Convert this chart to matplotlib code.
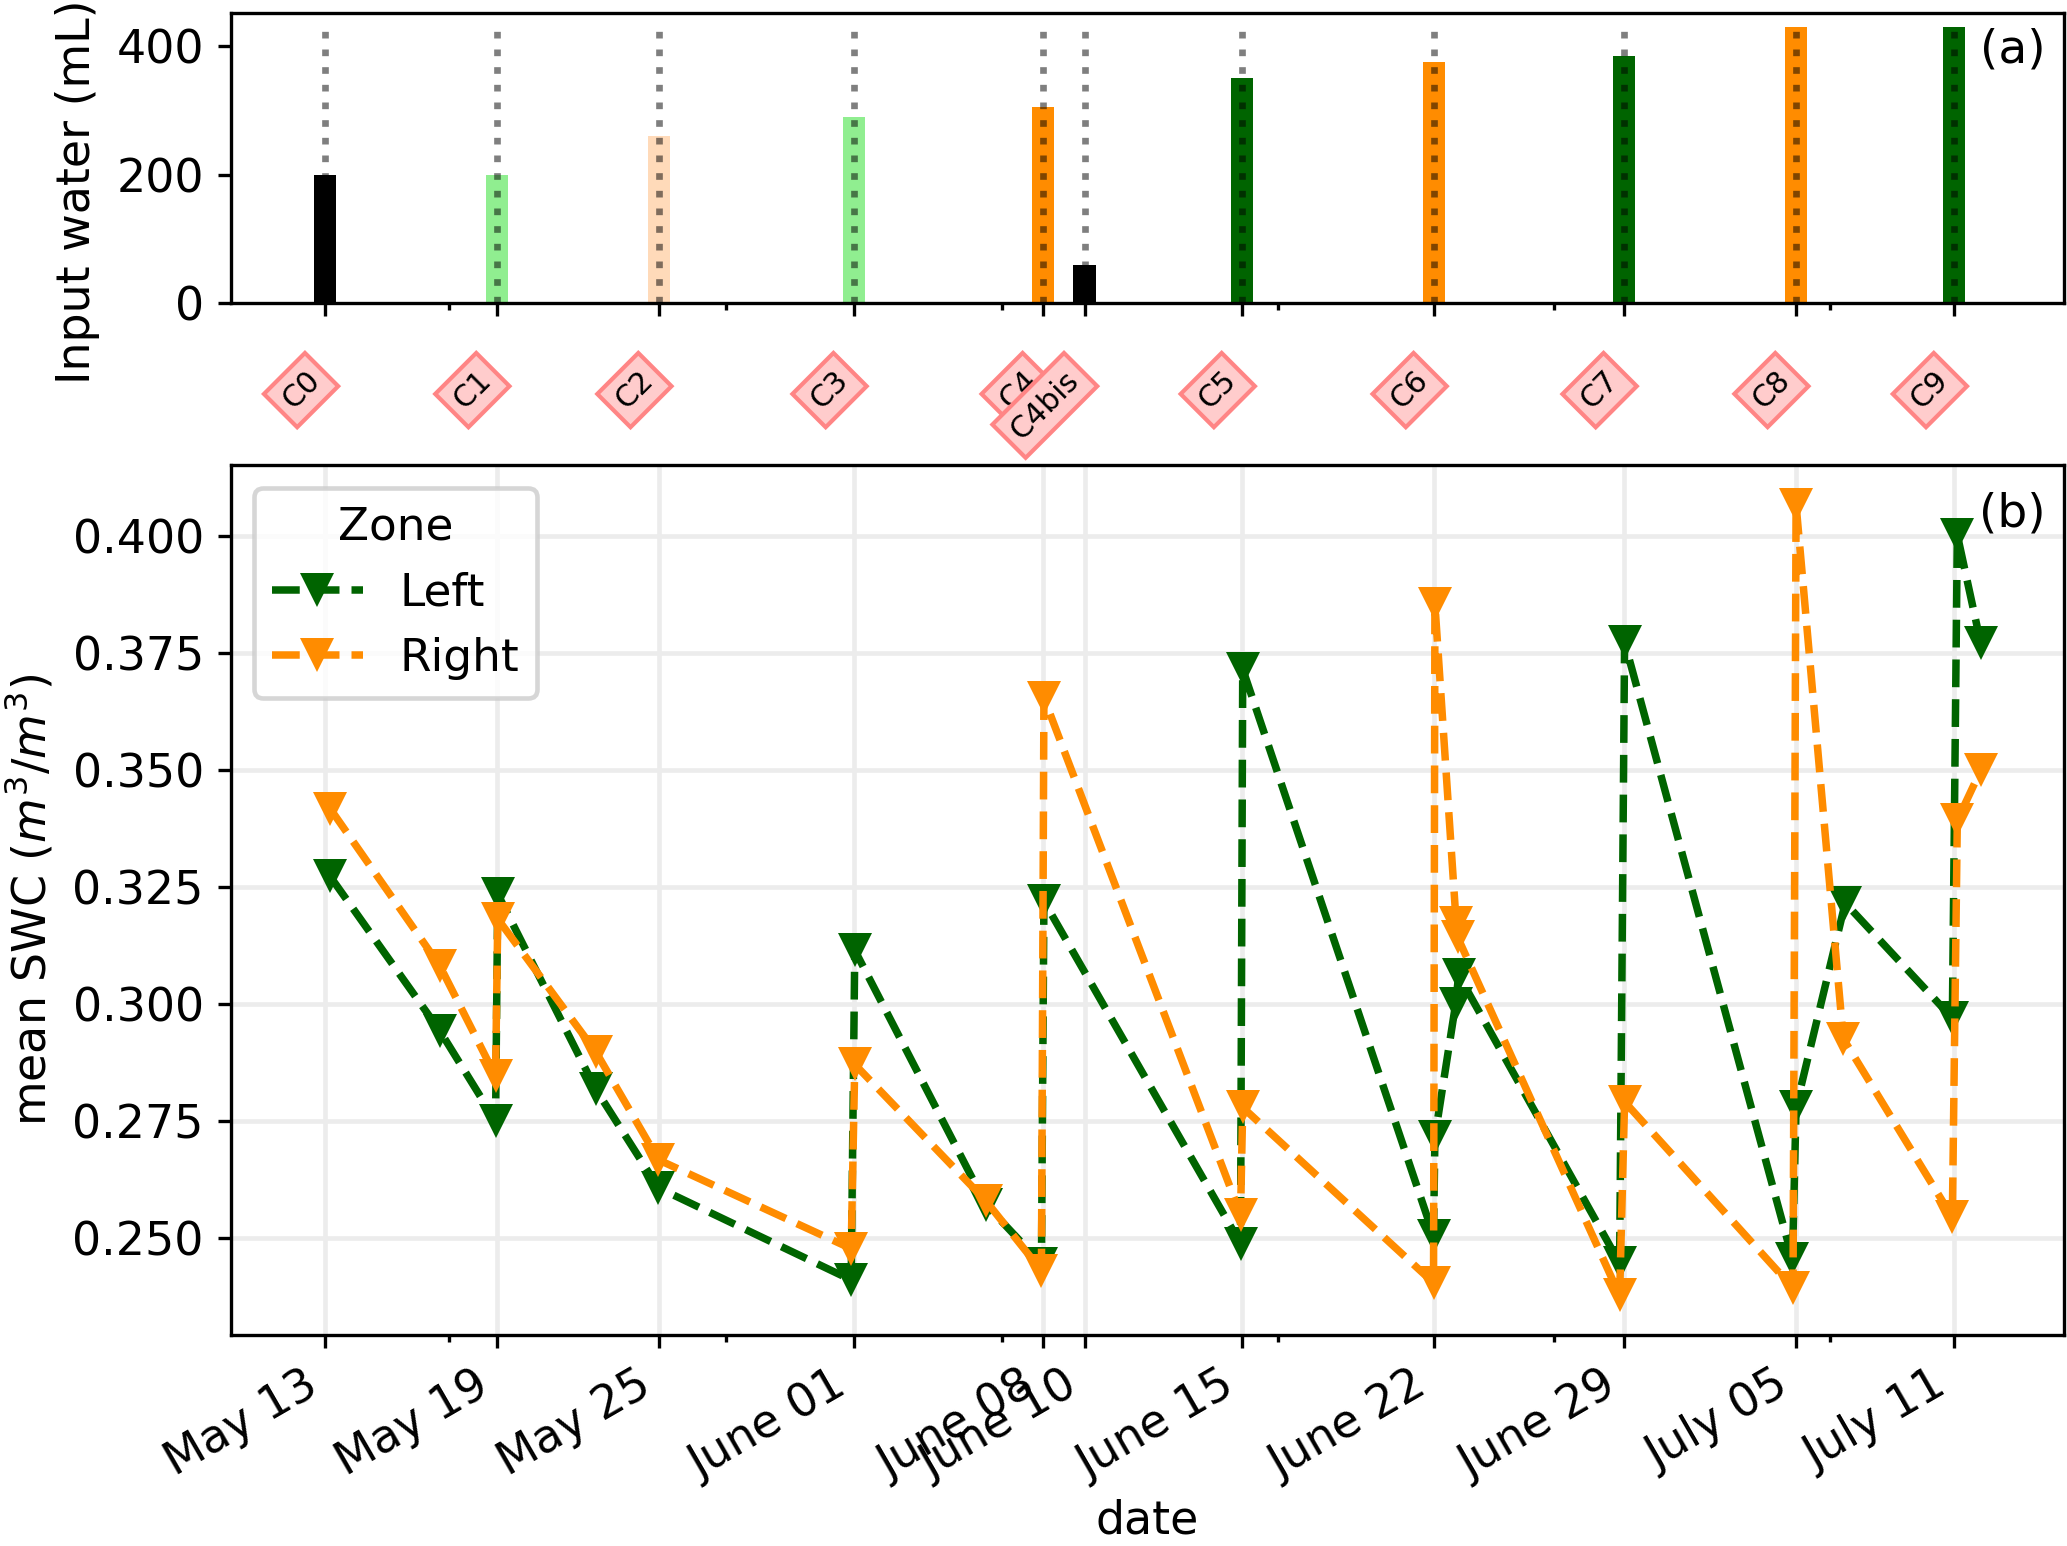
import matplotlib
matplotlib.use("Agg")
import matplotlib.pyplot as plt
import matplotlib.dates as mdates
import matplotlib.transforms as mtransforms
from matplotlib.ticker import MultipleLocator, FixedLocator
import pandas as pd

# ---------------- data ----------------
event_labels = ["C0", "C1", "C2", "C3", "C4", "C4bis", "C5", "C6", "C7", "C8", "C9"]
event_times = ["2021-05-13 12:14", "2021-05-19 17:07", "2021-05-25 13:59", "2021-06-01 15:36",
               "2021-06-08 12:00", "2021-06-10 00:00", "2021-06-15 17:02", "2021-06-22 15:50",
               "2021-06-29 12:58", "2021-07-05 18:14", "2021-07-11 12:00"]
input_water = [200, 200, 260, 290, 305, 60, 350, 375, 385, 430, 430]
event_colors = ["black", "lightgreen", "peachpuff", "lightgreen", "darkorange", "black",
                "darkgreen", "darkorange", "darkgreen", "darkorange", "darkgreen"]

minor_tick_times = ["2021-05-18", "2021-05-28", "2021-06-07", "2021-06-17", "2021-06-27", "2021-07-07"]

left_times = ["2021-05-13 16:19", "2021-05-17 15:36", "2021-05-19 16:05", "2021-05-19 18:00",
              "2021-05-23 07:12", "2021-05-25 13:41", "2021-06-01 13:12", "2021-06-01 16:19",
              "2021-06-06 10:19", "2021-06-08 10:34", "2021-06-08 12:43", "2021-06-15 15:36",
              "2021-06-15 17:31", "2021-06-22 15:22", "2021-06-22 16:34", "2021-06-23 10:34",
              "2021-06-23 13:12", "2021-06-29 09:07", "2021-06-29 13:26", "2021-07-05 15:22",
              "2021-07-05 18:29", "2021-07-07 13:12", "2021-07-11 10:19", "2021-07-11 14:38",
              "2021-07-12 11:02"]
left_swc = [0.3273, 0.2943, 0.2750, 0.3235, 0.2818, 0.2607, 0.2410, 0.3115, 0.2571, 0.2445,
            0.3220, 0.2488, 0.3716, 0.2505, 0.2716, 0.3000, 0.3062, 0.2446, 0.3774, 0.2455,
            0.2780, 0.3216, 0.2970, 0.4003, 0.3771]

right_times = ["2021-05-13 16:34", "2021-05-17 15:36", "2021-05-19 16:05", "2021-05-19 18:00",
               "2021-05-23 07:12", "2021-05-25 13:41", "2021-06-01 13:12", "2021-06-01 16:19",
               "2021-06-06 10:19", "2021-06-08 10:34", "2021-06-08 12:43", "2021-06-15 15:36",
               "2021-06-15 17:31", "2021-06-22 15:22", "2021-06-22 16:34", "2021-06-23 11:02",
               "2021-06-23 12:14", "2021-06-29 09:07", "2021-06-29 13:26", "2021-07-05 15:50",
               "2021-07-05 18:29", "2021-07-07 11:31", "2021-07-11 10:19", "2021-07-11 14:38",
               "2021-07-12 11:02"]
right_swc = [0.3417, 0.3082, 0.2846, 0.3182, 0.2898, 0.2667, 0.2477, 0.2871, 0.2579, 0.2430,
             0.3655, 0.2550, 0.2779, 0.2404, 0.3855, 0.3174, 0.3143, 0.2377, 0.2791, 0.2393,
             0.4068, 0.2926, 0.2544, 0.3393, 0.3500]

zones = ["Left", "Right"]
zone_colors = ["darkgreen", "darkorange"]

# ---------------- figure ----------------
ev_t = pd.to_datetime(event_times)
minor_t = pd.to_datetime(minor_tick_times)
series = [(pd.to_datetime(left_times), left_swc), (pd.to_datetime(right_times), right_swc)]

TICK_FS = 11
LABEL_FS = 11
LEG_FS = 10.9

fig = plt.figure(figsize=(2067 / 300, 1546 / 300), dpi=300)
ax1 = fig.add_axes([0.1118, 0.8038, 0.8868, 0.1876])
ax2 = fig.add_axes([0.1118, 0.1365, 0.8868, 0.5627], sharex=ax1)

# top panel: input water
ax1.bar(ev_t, input_water, width=0.8, color=event_colors, zorder=2)
ax1.vlines(ev_t, 0, max(input_water), colors="k", alpha=0.5, linestyles=":", lw=1.6, zorder=3)
ax1.set_yticks([0, 200, 400])
ax1.set_ylabel("Input water (mL)", fontsize=LABEL_FS)
ax1.yaxis.label.set_y(0.385)
ax1.text(0.99, 0.95, "(a)", transform=ax1.transAxes, ha="right", va="top", fontsize=11.3)

trans = mtransforms.blended_transform_factory(ax1.transData, ax1.transAxes)
for t, lab in zip(ev_t, event_labels):
    ax1.text(mdates.date2num(t), -0.215, lab, transform=trans, rotation=45,
             ha="right", va="top", fontsize=7.2, clip_on=False,
             bbox=dict(boxstyle="square,pad=0.3", fc="#ffcccc", ec="#ff8585", lw=1.0))

# bottom panel: SWC
for (tt, vals), name, col in zip(series, zones, zone_colors):
    ax2.plot(tt, vals, linestyle="--", lw=1.8, color=col,
             marker="v", markersize=8.2, markeredgewidth=0, label=name, zorder=3)

ax2.yaxis.set_major_locator(MultipleLocator(0.025))
ax2.set_ylabel("mean SWC ($m^3/m^3$)", fontsize=LABEL_FS)
ax2.set_xlabel("date", fontsize=LABEL_FS, labelpad=2.5)
ax2.grid(True, color="#ececec", lw=1.1)
ax2.set_axisbelow(True)
ax2.text(0.99, 0.97, "(b)", transform=ax2.transAxes, ha="right", va="top", fontsize=11.3)
leg = ax2.legend(title="Zone", loc="upper left", fontsize=LEG_FS, title_fontsize=LEG_FS)
leg.get_frame().set_linewidth(1.1)

# shared date axis
ax2.xaxis.set_major_locator(FixedLocator(mdates.date2num(ev_t)))
ax2.xaxis.set_minor_locator(FixedLocator(mdates.date2num(minor_t)))
ax2.xaxis.set_major_formatter(mdates.DateFormatter("%B %d"))
plt.setp(ax1.get_xticklabels(), visible=False)
for lab in ax2.get_xticklabels():
    lab.set_rotation(30)
    lab.set_ha("right")

for ax in (ax1, ax2):
    ax.tick_params(which="major", length=3.05, width=0.8, labelsize=TICK_FS)
    ax.tick_params(which="minor", length=1.75, width=0.8)

fig.savefig("out.png", dpi=300)
